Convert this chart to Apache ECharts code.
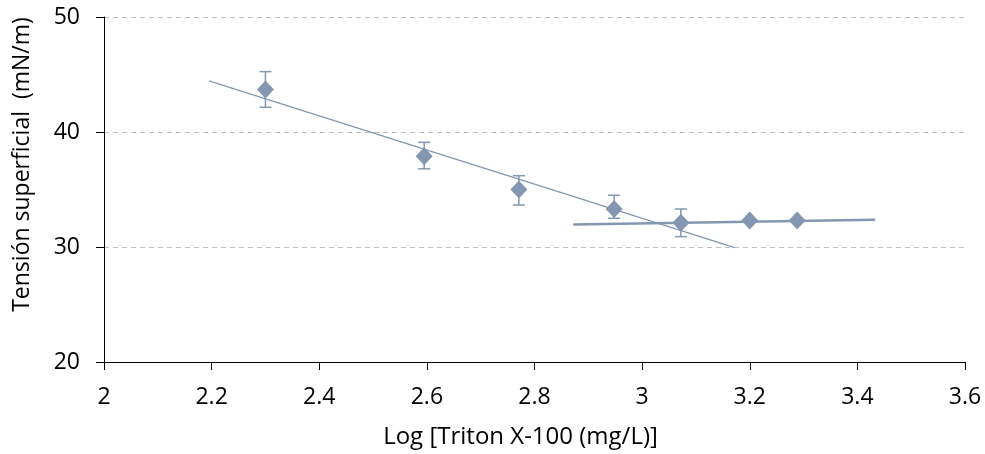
<!DOCTYPE html>
<html lang="es">
<head>
    <meta charset="UTF-8">
    <title>Tensión superficial</title>
    <script src="https://cdn.jsdelivr.net/npm/echarts@6/dist/echarts.min.js"></script>
    <style>
        * {
            margin: 0;
            padding: 0
        }

        html, body {
            width: 100%;
            height: 100%;
            background: #fff;
        }

        #main {
            width: 985px;
            height: 454px;
        }
    </style>
</head>
<body>
<div id="main"></div>
<script type="text/javascript">
    // puntos medidos: log concentración, tensión y error
    var logConc = [2.30, 2.595, 2.771, 2.948, 3.072, 3.20, 3.288];
    var tension = [43.7, 37.9, 35.0, 33.3, 32.1, 32.3, 32.3];
    var errLow = [1.55, 1.1, 1.35, 0.8, 1.2, 0, 0];
    var errHigh = [1.55, 1.2, 1.2, 1.2, 1.2, 0, 0];

    // rectas de ajuste (extremos)
    var fit1X = [2.195, 3.172];
    var fit1Y = [44.45, 29.95];
    var fit2X = [2.872, 3.433];
    var fit2Y = [31.96, 32.38];

    var xTicks = [2, 2.2, 2.4, 2.6, 2.8, 3, 3.2, 3.4, 3.6];

    var color = '#8497b0';
    var font = '"Open Sans", "Liberation Sans", sans-serif';

    var points = logConc.map(function (x, i) { return [x, tension[i]]; });
    var bars = logConc.map(function (x, i) {
        return [x, tension[i] - errLow[i], tension[i] + errHigh[i]];
    });
    var fit1 = fit1X.map(function (x, i) { return [x, fit1Y[i]]; });
    var fit2 = fit2X.map(function (x, i) { return [x, fit2Y[i]]; });

    var chart = echarts.init(document.getElementById('main'));
    chart.setOption({
        animation: false,
        grid: {left: 104, right: 20, top: 17, bottom: 91},
        xAxis: {
            type: 'value',
            min: xTicks[0],
            max: xTicks[xTicks.length - 1],
            interval: 0.2,
            name: 'Log [Triton X-100 (mg/L)]',
            nameLocation: 'middle',
            nameGap: 63,
            nameTextStyle: {fontFamily: font, fontSize: 24, color: '#000', padding: [0, 28, 0, 0]},
            axisLine: {lineStyle: {color: '#000', width: 1}},
            axisTick: {length: 8, lineStyle: {color: '#000'}},
            axisLabel: {
                margin: 24, fontFamily: font, fontSize: 23, color: '#000',
                formatter: function (v) { return String(Math.round(v * 10) / 10); }
            },
            splitLine: {show: false}
        },
        yAxis: {
            type: 'value',
            min: 20,
            max: 50,
            interval: 10,
            name: 'Tensión superficial  (mN/m)',
            nameLocation: 'middle',
            nameGap: 70,
            nameTextStyle: {fontFamily: font, fontSize: 23, color: '#000', padding: [0, 0, 0, 50]},
            axisLine: {show: true, lineStyle: {color: '#000', width: 1}},
            axisTick: {show: true, inside: false, length: 8, lineStyle: {color: '#000'}},
            axisLabel: {margin: 24, fontFamily: font, fontSize: 23, color: '#000'},
            splitLine: {show: true, lineStyle: {color: '#bfbfbf', type: [5, 4], width: 1}}
        },
        series: [
            {
                type: 'line',
                data: fit1,
                showSymbol: false,
                lineStyle: {color: color, width: 1.2},
                z: 2
            },
            {
                type: 'line',
                data: fit2,
                showSymbol: false,
                lineStyle: {color: color, width: 2.5},
                z: 2
            },
            {
                type: 'custom',
                data: bars,
                z: 3,
                renderItem: function (params, api) {
                    var top = api.coord([api.value(0), api.value(2)]);
                    var bot = api.coord([api.value(0), api.value(1)]);
                    var cap = 6;
                    var st = {stroke: color, lineWidth: 1.5};
                    return {
                        type: 'group',
                        children: [
                            {type: 'line', shape: {x1: top[0], y1: top[1], x2: bot[0], y2: bot[1]}, style: st},
                            {type: 'line', shape: {x1: top[0] - cap, y1: top[1], x2: top[0] + cap, y2: top[1]}, style: st},
                            {type: 'line', shape: {x1: bot[0] - cap, y1: bot[1], x2: bot[0] + cap, y2: bot[1]}, style: st}
                        ]
                    };
                }
            },
            {
                type: 'scatter',
                data: points,
                symbol: 'diamond',
                symbolSize: [17, 18],
                itemStyle: {color: color, opacity: 1},
                z: 4
            }
        ]
    });
</script>
</body>
</html>
